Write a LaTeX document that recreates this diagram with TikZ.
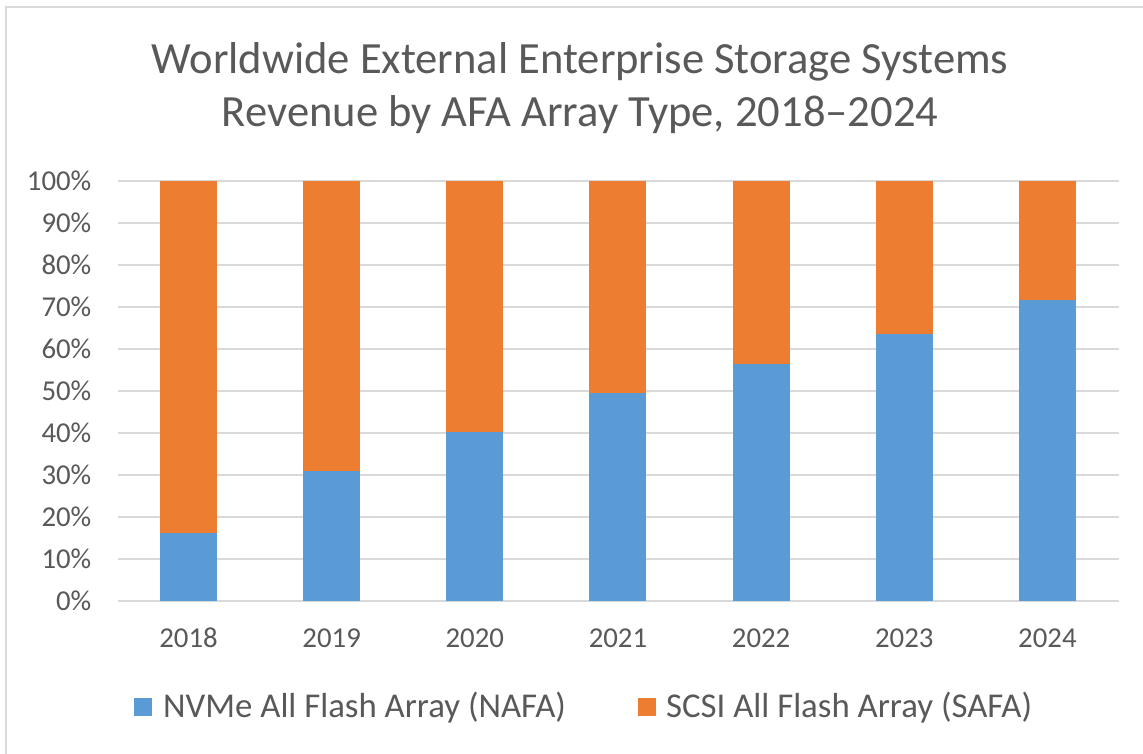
\documentclass[tikz,border=0pt]{standalone}
\usepackage{fontspec}
\setmainfont{Carlito}
\definecolor{txt}{HTML}{595959}
\definecolor{gridc}{HTML}{D9D9D9}
\definecolor{nafa}{HTML}{5B9BD5}
\definecolor{safa}{HTML}{ED7D31}
\begin{document}
\begin{tikzpicture}[x=1pt,y=-1pt,
  titletext/.style={text=txt,font=\fontsize{44.6}{53}\selectfont,align=center,inner sep=0pt},
  ticklabel/.style={text=txt,font=\fontsize{28.8}{32}\selectfont,inner sep=0pt},
  legendtext/.style={text=txt,font=\fontsize{34.8}{38}\selectfont,inner sep=0pt,anchor=base west},
  gridline/.style={draw=gridc,line width=2.2pt},
  barN/.style={fill=nafa},
  barS/.style={fill=safa}]
\useasboundingbox (0,0) rectangle (1143,754);
\fill[white] (0,0) rectangle (1143,754);
\draw[gridc,line width=2pt] (5.5,754) -- (5.5,7.5) -- (1143,7.5);
% title
\node[titletext,anchor=base] (title1) at (580,74) {Worldwide External Enterprise Storage Systems};
\node[titletext,anchor=base] (title2) at (580,127) {Revenue by AFA Array Type, 2018–2024};
% gridlines and tick labels
\foreach \i in {0,...,10}{
  \draw[gridline] (118,{600.7-41.97*\i}) -- (1119,{600.7-41.97*\i});
  \pgfmathtruncatemacro{\pc}{10*\i}
  \node[ticklabel,anchor=east] (tick\i) at (91.5,{600.7-41.97*\i}) {\pc\%};
}
% bars
\foreach \v/\yr [count=\k from 0] in {16.1/2018,30.8/2019,40.1/2020,49.4/2021,56.3/2022,63.6/2023,71.6/2024}{
  \pgfmathsetmacro{\cx}{188.5+143.15*\k}
  \fill[barS] ({\cx-28.5},181) rectangle ({\cx+28.5},{600.7-4.197*\v});
  \fill[barN] ({\cx-28.5},{600.7-4.197*\v}) rectangle ({\cx+28.5},600.7);
  \node[ticklabel,anchor=base] (year\k) at (\cx,647) {\yr};
}
% legend
\fill[nafa] (134,698) rectangle (152,716);
\node[legendtext] (legN) at (163,717) {NVMe All Flash Array (NAFA)};
\fill[safa] (638,698) rectangle (656,716);
\node[legendtext] (legS) at (666,717) {SCSI All Flash Array (SAFA)};
\end{tikzpicture}
\end{document}
